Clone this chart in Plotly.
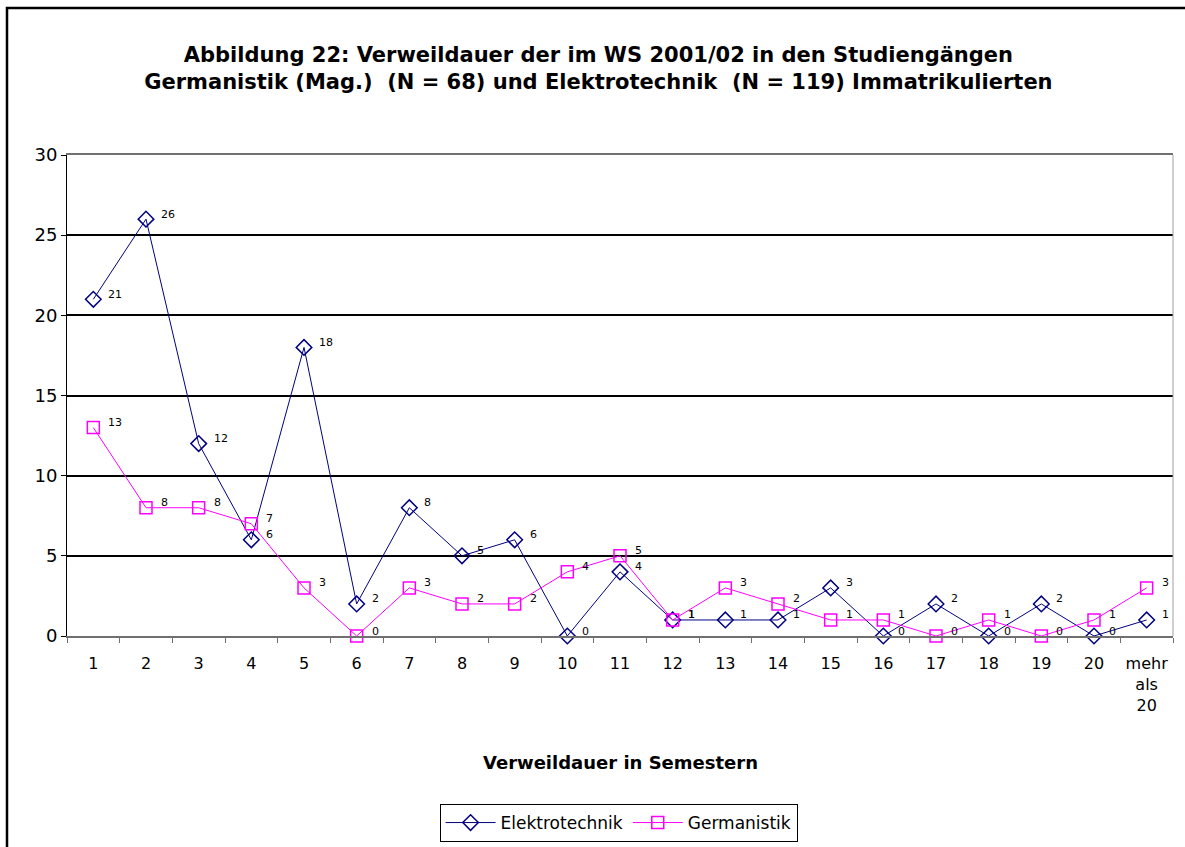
import plotly.graph_objects as go

categories = [str(i) for i in range(1, 21)] + ["mehr<br>als<br>20"]
elektrotechnik = [21, 26, 12, 6, 18, 2, 8, 5, 6, 0, 4, 1, 1, 1, 3, 0, 2, 0, 2, 0, 1]
germanistik = [13, 8, 8, 7, 3, 0, 3, 2, 2, 4, 5, 1, 3, 2, 1, 1, 0, 1, 0, 1, 3]
y_ticks = [0, 5, 10, 15, 20, 25, 30]

FONT = "DejaVu Sans, Arial, sans-serif"
NAVY = "#000080"
MAGENTA = "#FF00FF"

fig = go.Figure()
fig.add_trace(go.Scatter(
    x=categories, y=elektrotechnik, name="Elektrotechnik", mode="lines+markers",
    line=dict(color=NAVY, width=1),
    marker=dict(symbol="diamond-open", size=12, color=NAVY, line=dict(width=1.5, color=NAVY)),
    cliponaxis=False,
))
fig.add_trace(go.Scatter(
    x=categories, y=germanistik, name="Germanistik", mode="lines+markers",
    line=dict(color=MAGENTA, width=1),
    marker=dict(symbol="square-open", size=12, color=MAGENTA, line=dict(width=1.5, color=MAGENTA)),
    cliponaxis=False,
))

annotations = []
for series in (elektrotechnik, germanistik):
    for i, v in enumerate(series):
        annotations.append(dict(
            x=i, y=v, xref="x", yref="y", text=str(v), showarrow=False,
            xanchor="left", yanchor="middle", xshift=13, yshift=5,
            font=dict(family=FONT, size=11, color="#000000"),
        ))

annotations.append(dict(
    x=0.5, y=-0.263, xref="paper", yref="paper", xanchor="center", yanchor="middle",
    text="<b>Verweildauer in Semestern</b>",
    showarrow=False, font=dict(family=FONT, size=18, color="#000000"),
))

fig.update_layout(
    width=1185, height=847,
    margin=dict(l=67, r=12, t=155, b=211),
    paper_bgcolor="white", plot_bgcolor="white",
    title=dict(
        text="<b>Abbildung 22: Verweildauer der im WS 2001/02 in den Studiengängen<br>"
             "Germanistik (Mag.)  (N = 68) und Elektrotechnik  (N = 119) Immatrikulierten</b>",
        x=0.505, xanchor="center", y=0.9268, yanchor="middle",
        font=dict(family=FONT, size=21, color="#000000"),
    ),
    font=dict(family=FONT, color="#000000"),
    xaxis=dict(
        type="category", showgrid=False, zeroline=False, automargin=False,
        showline=True, linecolor="#707070", linewidth=2, mirror=True,
        ticks="outside", tickson="boundaries", ticklen=5, tickcolor="#707070",
        tickfont=dict(family=FONT, size=16, color="#000000"), tickangle=0,
        ticklabelstandoff=12,
        range=[-0.5, 20.5],
    ),
    yaxis=dict(
        range=[0, 30], tickvals=y_ticks, showgrid=True, gridcolor="#000000", gridwidth=2,
        zeroline=False, showline=True, linecolor="#000000", linewidth=1, automargin=False,
        ticks="outside", ticklen=5, tickcolor="#000000",
        tickfont=dict(family=FONT, size=18, color="#000000"),
    ),
    legend=dict(
        orientation="h", xref="container", x=0.522, xanchor="center",
        yref="container", y=1 - 804 / 847, yanchor="top",
        bordercolor="#000000", borderwidth=1, bgcolor="white",
        font=dict(family=FONT, size=17, color="#000000"),
        itemwidth=50, tracegroupgap=0,
    ),
    annotations=annotations,
    shapes=[
        dict(type="line", xref="paper", yref="paper", x0=1, x1=1, y0=0, y1=1,
             line=dict(color="#A0A0A0", width=1)),
        dict(type="rect", xref="paper", yref="paper",
             x0=(7 - 67) / 1106, x1=(1195 - 67) / 1106,
             y0=(636 - 870) / 481, y1=(636 - 8) / 481,
             line=dict(color="#000000", width=2.5), layer="below"),
    ],
)

fig.write_html(
    "out.html",
    config={"displayModeBar": False},
    post_script="document.body.style.margin='0';document.body.style.overflow='hidden';",
)
